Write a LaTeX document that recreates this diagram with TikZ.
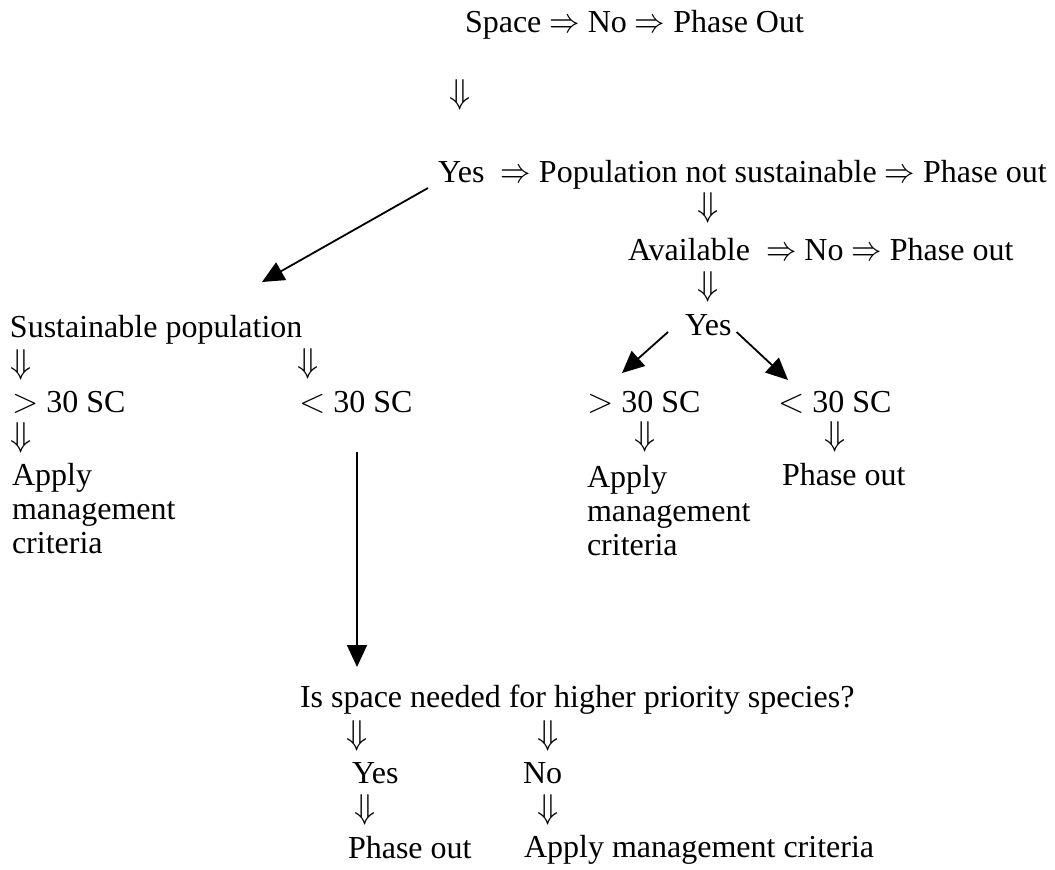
\documentclass[tikz,border=0pt]{standalone}
\usepackage{fontspec}
\setmainfont{Liberation Serif}
\usetikzlibrary{arrows.meta,calc}
\tikzset{
  txt/.style={inner sep=0pt, outer sep=0pt, anchor=base west, font=\fontsize{16}{17}\selectfont},
  ml/.style={txt, align=left},
  dn/.style={inner sep=0pt, outer sep=0pt, anchor=center, font=\fontsize{16}{17}\selectfont},
  conn/.style={line width=0.9pt, -{Triangle[length=11pt,width=10pt]}}
}
\newcommand{\RA}{\scalebox{0.88}[1]{$\Rightarrow$}}
\newcommand{\DA}{$\Downarrow$}
\begin{document}
\begin{tikzpicture}[x=0.5pt,y=-0.5pt]
\useasboundingbox (0,0) rectangle (1055,869);
% top
\node[txt] (space) at (465,32) {Space \RA{} No \RA{} Phase Out};
\node[dn] (d0) at (460,95) {\DA};
\node[txt] (yes1) at (438,182) {Yes\ \ \RA{} Population not sustainable \RA{} Phase out};
\node[dn] (d1) at (708,208) {\DA};
\node[txt] (avail) at (628,260) {Available\ \ \RA{} No \RA{} Phase out};
\node[dn] (d2) at (708,287) {\DA};
\node[txt] (yes2) at (685,335) {Yes};
% right branch
\node[txt] (gt2) at (587,412) {$>$ 30 SC};
\node[dn] (d3) at (645,437) {\DA};
\node[ml] (app2) at (587,555) {Apply\\management\\criteria};
\node[txt] (lt2) at (778,412) {$<$ 30 SC};
\node[dn] (d4) at (835,437) {\DA};
\node[txt] (po2) at (782,485) {Phase out};
% left branch
\node[txt] (sust) at (10,337) {Sustainable population};
\node[dn] (d5) at (21,365) {\DA};
\node[dn] (d6) at (308,364) {\DA};
\node[txt] (gt1) at (12,412) {$>$ 30 SC};
\node[txt] (lt1) at (299,412) {$<$ 30 SC};
\node[dn] (d7) at (21,438) {\DA};
\node[ml] (app1) at (12,553) {Apply\\management\\criteria};
% bottom
\node[txt] (isq) at (300,707) {Is space needed for higher priority species?};
\node[dn] (d8) at (357,736) {\DA};
\node[dn] (d9) at (548,736) {\DA};
\node[txt] (yes3) at (352,783) {Yes};
\node[txt] (no3) at (523,783) {No};
\node[dn] (d10) at (365,810) {\DA};
\node[dn] (d11) at (548,810) {\DA};
\node[txt] (po3) at (348,858) {Phase out};
\node[txt] (app3) at (524,857) {Apply management criteria};
% connectors
\draw[conn] ($(yes1.base west)+(-10,6)$) -- ($(sust.base west)+(252,-55)$);
\draw[conn] ($(yes2.base west)+(-17,-3)$) -- ($(gt2.base west)+(35,-39)$);
\draw[conn] ($(yes2.base east)+(5,-3)$) -- ($(lt2.base west)+(10,-32)$);
\draw[conn] ($(lt1.base west)+(58,40)$) -- ($(isq.base west)+(57,-40)$);
\end{tikzpicture}
\end{document}
